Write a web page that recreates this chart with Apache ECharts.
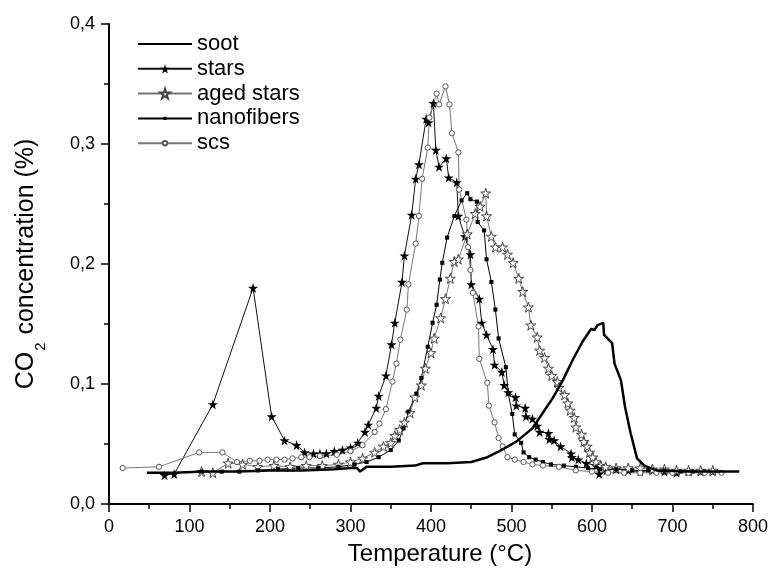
<!DOCTYPE html>
<html>
<head>
<meta charset="utf-8">
<script src="https://cdn.jsdelivr.net/npm/echarts@6/dist/echarts.min.js"></script>
<style>html,body{margin:0;padding:0;background:#fff}#c{width:771px;height:577px}</style>
</head>
<body>
<div id="c"></div>
<script>
// ---- data ----
const sootT = [47,80,120,160,200,240,280,300,308,312,320,350,380,390,420,450,470,485,506,526,539,551,563,576,588,599,603,607,614,615,625,628,636,641,648,656,665,680,720,760,783];
const sootC = [0.026,0.026,0.027,0.027,0.028,0.028,0.029,0.030,0.030,0.027,0.031,0.031,0.032,0.034,0.034,0.035,0.039,0.044,0.052,0.063,0.076,0.088,0.102,0.120,0.135,0.146,0.145,0.149,0.151,0.141,0.134,0.117,0.103,0.081,0.059,0.038,0.032,0.028,0.027,0.027,0.027];

const starsT = [69,81,129,179,202,218,233,243,254,262,270,280,290,300,309,318,322,332,335,344,351,355,364,367,376,381,385,394,397,403,406,410,419,422,432,434,442,449,450,460,463,469,477,479,488,491,496,505,506,517,518,526,532,535,546,547,553,561,574,575,583,593,605,609,618,630,645,660,675,690,705,720,735,750];
const starsC = [0.024,0.025,0.083,0.180,0.073,0.053,0.049,0.043,0.042,0.042,0.042,0.044,0.045,0.047,0.051,0.060,0.066,0.080,0.090,0.107,0.133,0.151,0.185,0.207,0.241,0.271,0.283,0.321,0.318,0.334,0.295,0.281,0.288,0.272,0.268,0.240,0.223,0.208,0.183,0.171,0.151,0.141,0.129,0.116,0.110,0.099,0.093,0.089,0.082,0.080,0.073,0.071,0.065,0.060,0.059,0.054,0.053,0.048,0.042,0.039,0.037,0.034,0.032,0.025,0.028,0.029,0.028,0.027,0.028,0.027,0.026,0.027,0.027,0.027];

const agedT = [115,129,148,166,185,205,225,245,265,285,300,315,330,341,350,355,361,367,374,380,388,393,400,404,412,418,424,429,434,445,455,461,468,469,475,480,489,495,502,509,514,521,524,532,535,541,546,550,557,559,566,570,573,578,580,587,590,594,597,601,605,611,617,630,645,660,675,690,705,720,735,750];
const agedC = [0.027,0.026,0.034,0.033,0.031,0.032,0.031,0.032,0.032,0.033,0.035,0.038,0.043,0.048,0.051,0.057,0.062,0.068,0.076,0.089,0.099,0.113,0.126,0.138,0.155,0.171,0.188,0.202,0.204,0.225,0.242,0.248,0.259,0.240,0.223,0.214,0.214,0.208,0.201,0.188,0.177,0.164,0.149,0.139,0.128,0.122,0.113,0.107,0.102,0.097,0.091,0.084,0.078,0.072,0.064,0.058,0.052,0.048,0.043,0.039,0.035,0.032,0.031,0.030,0.030,0.030,0.029,0.029,0.028,0.028,0.028,0.028];

const nanoT = [115,140,162,185,210,235,260,285,305,320,335,350,360,366,372,382,388,396,402,407,411,414,420,429,438,445,449,457,458,466,469,475,480,484,493,496,501,504,512,515,522,530,539,549,565,580,595,610,630,650,670,690,710,725,740];
const nanoC = [0.027,0.027,0.027,0.028,0.029,0.030,0.030,0.031,0.033,0.035,0.039,0.045,0.053,0.063,0.077,0.092,0.105,0.131,0.151,0.166,0.187,0.201,0.222,0.240,0.253,0.259,0.254,0.252,0.235,0.228,0.204,0.185,0.162,0.138,0.114,0.092,0.075,0.058,0.051,0.043,0.039,0.037,0.035,0.033,0.032,0.031,0.030,0.029,0.029,0.028,0.028,0.028,0.027,0.027,0.027];

const scsT = [17,62,112,141,159,175,187,197,208,218,228,239,249,262,283,300,315,330,336,344,352,357,362,370,372,381,385,389,396,398,407,410,418,423,426,434,435,444,446,449,452,459,460,470,472,479,484,489,495,504,515,526,539,559,580,600,620,640,660,680,700,720,740,761];
const scsC = [0.030,0.031,0.043,0.043,0.035,0.036,0.036,0.037,0.037,0.037,0.038,0.039,0.039,0.040,0.041,0.044,0.049,0.060,0.067,0.079,0.102,0.117,0.137,0.162,0.183,0.217,0.240,0.271,0.297,0.322,0.342,0.333,0.348,0.333,0.309,0.293,0.262,0.237,0.214,0.195,0.176,0.148,0.121,0.101,0.082,0.068,0.055,0.048,0.039,0.037,0.035,0.033,0.032,0.031,0.028,0.027,0.026,0.026,0.026,0.026,0.026,0.026,0.026,0.026];

const xTicks = {min: 0, max: 800, step: 100};
const yTicks = {min: 0, max: 0.4, step: 0.1};
const names = ['soot', 'stars', 'aged stars', 'nanofibers', 'scs'];

// ---- chart ----
const zip = (a, b) => a.map((v, i) => [v, b[i]]);
const STAR = 'path://M50,0 L61,35 L98,35 L68,57 L79,91 L50,70 L21,91 L32,57 L2,35 L39,35 Z';
// padded shapes (invisible corners keep the box, so the mark stays small)
const SQUARE = 'path://M0,0 M100,100 M33,33 L67,33 L67,67 L33,67 Z';
const CIRCLE = 'path://M0,0 M100,100 M50,26 A24,24 0 1 1 49.9,26 Z';
const FONT = 'Liberation Sans, Arial, sans-serif';

const chart = echarts.init(document.getElementById('c'), null, {renderer: 'canvas'});
const axisCommon = {
  axisLine: {show: true, onZero: false, lineStyle: {color: '#000', width: 2}},
  axisTick: {show: true, inside: false, length: 8, lineStyle: {color: '#000', width: 1.5}},
  minorTick: {show: true, splitNumber: 2, length: 5, lineStyle: {color: '#000', width: 1.5}},
  splitLine: {show: false},
  minorSplitLine: {show: false}
};
chart.setOption({
  animation: false,
  backgroundColor: '#fff',
  grid: {left: 109, right: 17, top: 24, bottom: 73, containLabel: false},
  legend: {
    orient: 'vertical', left: 132, top: 28,
    itemWidth: 54, itemHeight: 12, itemGap: 2.8,
    textStyle: {fontSize: 22, color: '#000', fontFamily: FONT},
    data: [
      {name: names[0], itemStyle: {opacity: 0, color: 'rgba(0,0,0,0)', borderColor: 'rgba(0,0,0,0)'}},
      names[1], names[2], names[3], names[4]
    ]
  },
  xAxis: Object.assign({
    type: 'value', min: xTicks.min, max: xTicks.max, interval: xTicks.step,
    name: 'Temperature (°C)', nameLocation: 'middle', nameGap: 38,
    nameTextStyle: {fontSize: 24, color: '#000', fontFamily: FONT, padding: [0, 0, 0, 18]},
    axisLabel: {fontSize: 18, color: '#000', margin: 14, fontFamily: FONT}
  }, axisCommon),
  yAxis: Object.assign({
    type: 'value', min: yTicks.min, max: yTicks.max, interval: yTicks.step,
    name: '{a|CO}{s|2}{a| concentration (%)}', nameLocation: 'middle', nameGap: 70,
    nameTextStyle: {color: '#000', fontFamily: FONT,
      rich: {a: {fontSize: 25, color: '#000', fontFamily: FONT},
             s: {fontSize: 15, color: '#000', fontFamily: FONT, verticalAlign: 'bottom', padding: [0, 1, -9, 1]}}},
    axisLabel: {fontSize: 18, color: '#000', margin: 14, fontFamily: FONT,
      formatter: v => v.toFixed(1).replace('.', ',')}
  }, axisCommon),
  series: [
    {name: names[0], type: 'line', data: zip(sootT, sootC), symbol: 'none',
     lineStyle: {color: '#000', width: 2.5}, itemStyle: {color: '#000'}, z: 5},
    {name: names[1], type: 'line', data: zip(starsT, starsC), symbol: STAR, symbolSize: 10, showAllSymbol: true,
     lineStyle: {color: '#111', width: 1}, itemStyle: {color: '#000'}},
    {name: names[2], type: 'line', data: zip(agedT, agedC), symbol: STAR, symbolSize: 10, showAllSymbol: true,
     lineStyle: {color: '#777', width: 1}, itemStyle: {color: '#fff', borderColor: '#444', borderWidth: 1}},
    {name: names[3], type: 'line', data: zip(nanoT, nanoC), symbol: SQUARE, symbolSize: 12, showAllSymbol: true,
     lineStyle: {color: '#000', width: 1}, itemStyle: {color: '#000'}},
    {name: names[4], type: 'line', data: zip(scsT, scsC), symbol: CIRCLE, symbolSize: 11, showAllSymbol: true,
     lineStyle: {color: '#777', width: 1}, itemStyle: {color: '#fff', borderColor: '#555', borderWidth: 1}}
  ]
});
</script>
</body>
</html>
